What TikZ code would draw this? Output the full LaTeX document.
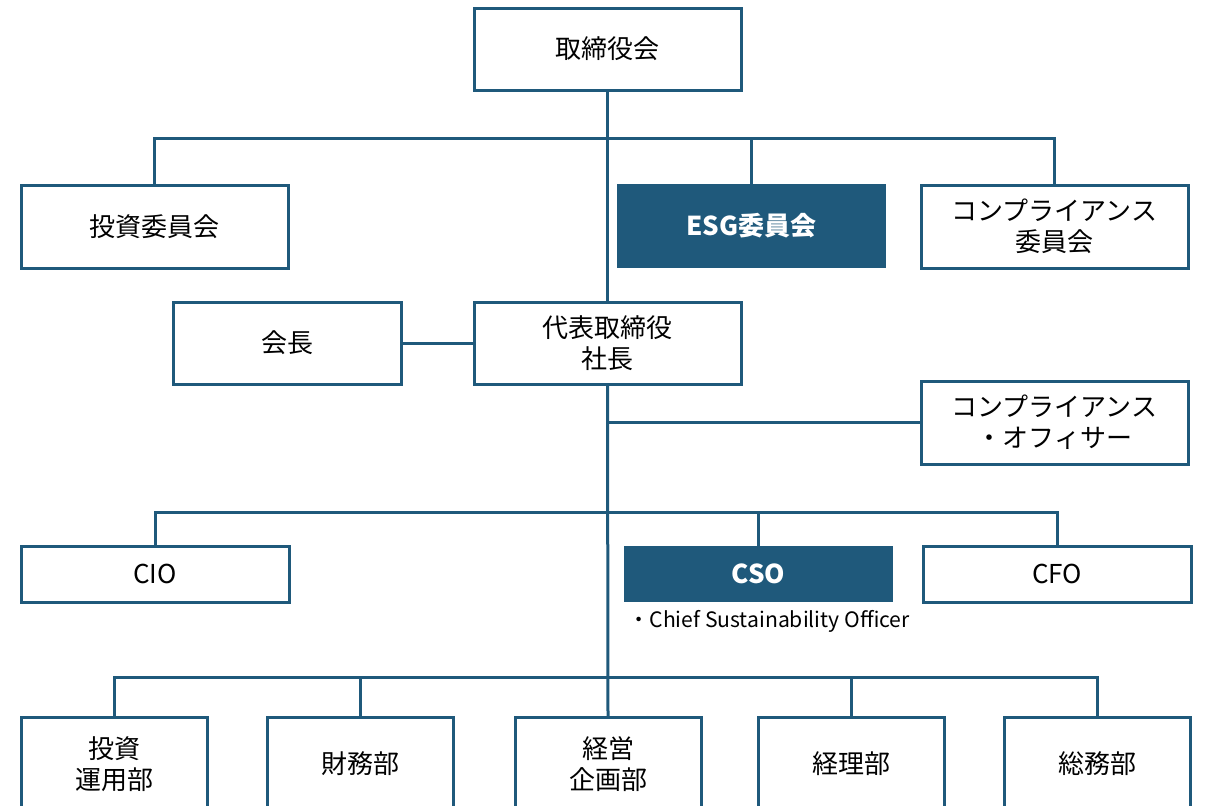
\documentclass[tikz,border=0pt]{standalone}
\usepackage{fontspec}
\setmainfont{Noto Sans CJK JP}
\definecolor{navy}{RGB}{31,89,123}
\begin{document}
\begin{tikzpicture}[x=0.6pt,y=-0.6pt,
  box/.style={draw=navy,line width=1.8pt,fill=white,outer sep=0pt,inner sep=0pt,align=center,font=\fontsize{15.6}{18.6}\selectfont},
  dbox/.style={fill=navy,outer sep=0pt,inner sep=0pt,align=center,text=white,font=\fontsize{15.6}{18.6}\selectfont\bfseries},
  conn/.style={draw=navy,line width=1.8pt},
  captext/.style={font=\fontsize{12.7}{14}\selectfont,inner sep=0pt,anchor=west}]
\useasboundingbox (0,0) rectangle (1207,805);
\clip (0,0) rectangle (1207,805);
% nodes
\node[box,minimum width=267*0.6pt,minimum height=82*0.6pt] (board) at (607.5,49) {取締役会};
\node[box,minimum width=267*0.6pt,minimum height=83*0.6pt] (inv) at (154.5,226.5) {投資委員会};
\node[dbox,minimum width=269*0.6pt,minimum height=84*0.6pt] (esg) at (751.5,226) {ESG委員会};
\node[box,minimum width=267*0.6pt,minimum height=83*0.6pt] (compc) at (1054.5,226.5) {コンプライアンス\\委員会};
\node[box,minimum width=228*0.6pt,minimum height=82*0.6pt] (chair) at (287,343) {会長};
\node[box,minimum width=267*0.6pt,minimum height=82*0.6pt] (pres) at (607.5,343) {代表取締役\\社長};
\node[box,minimum width=267*0.6pt,minimum height=83*0.6pt] (co) at (1054.5,422.5) {コンプライアンス\\・オフィサー};
\node[box,minimum width=268*0.6pt,minimum height=56*0.6pt] (cio) at (155,574) {CIO};
\node[dbox,minimum width=269*0.6pt,minimum height=56*0.6pt] (cso) at (758.5,574) {CSO};
\node[box,minimum width=268*0.6pt,minimum height=56*0.6pt] (cfo) at (1057,574) {CFO};
\node[captext] (csocap) at (628,621) {・Chief Sustainability Officer};
\node[box,minimum width=186*0.6pt,minimum height=94*0.6pt] (d1) at (114,764) {投資\\運用部};
\node[box,minimum width=186*0.6pt,minimum height=94*0.6pt] (d2) at (360.5,764) {財務部};
\node[box,minimum width=186*0.6pt,minimum height=94*0.6pt] (d3) at (608,764) {経営\\企画部};
\node[box,minimum width=186*0.6pt,minimum height=94*0.6pt] (d4) at (851.5,764) {経理部};
\node[box,minimum width=186*0.6pt,minimum height=94*0.6pt] (d5) at (1097.5,764) {総務部};
% junctions
\coordinate (b1) at (607.5,138);
\coordinate (b2) at (607.5,512);
\coordinate (b3) at (607.5,677);
% connectors
\draw[conn] (board.south) -- (pres.north);
\draw[conn] (inv.north) |- (b1) -| (compc.north);
\draw[conn] (esg.north) -- (esg.north |- b1);
\draw[conn] (chair.east) -- (pres.west);
\draw[conn] (pres.south) -- (d3.north);
\draw[conn] (co.west) -- (co.west -| pres.south);
\draw[conn] (cio.north) |- (b2) -| (cfo.north);
\draw[conn] (cso.north) -- (cso.north |- b2);
\draw[conn] (d1.north) |- (b3) -| (d5.north);
\draw[conn] (d2.north) -- (d2.north |- b3);
\draw[conn] (d4.north) -- (d4.north |- b3);
\end{tikzpicture}
\end{document}
